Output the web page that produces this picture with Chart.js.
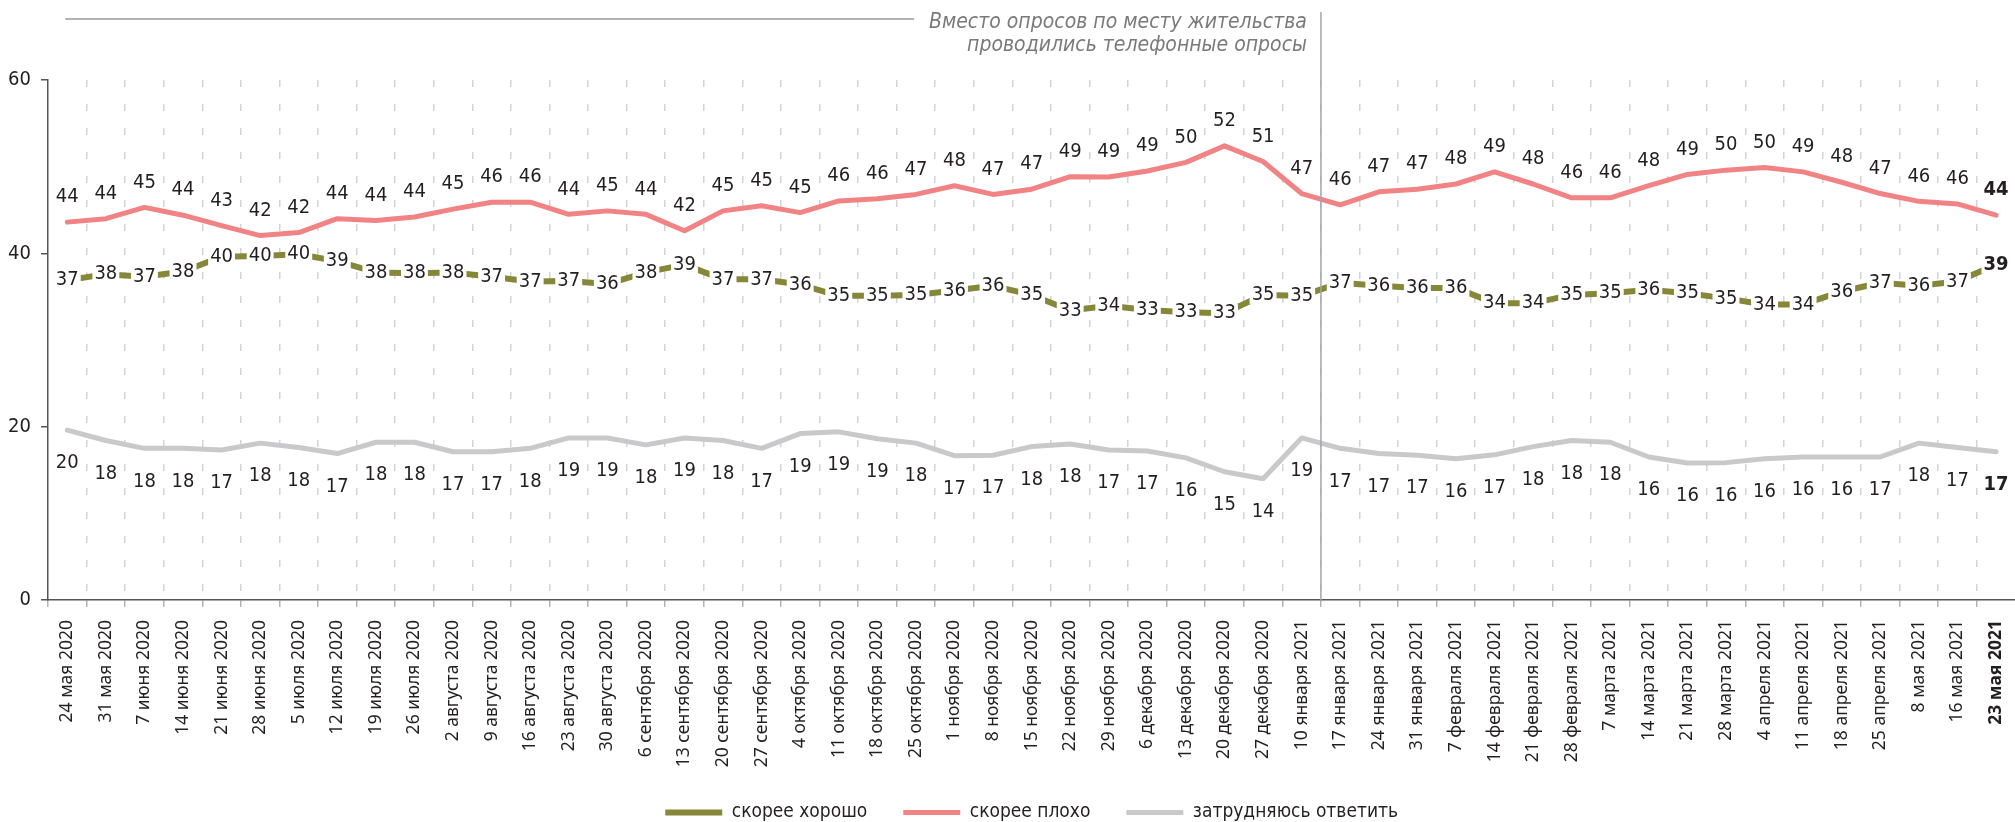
<!DOCTYPE html>
<html>
<head>
<meta charset="utf-8">
<script src="https://cdn.jsdelivr.net/npm/chart.js@4.4.0/dist/chart.umd.min.js"></script>
<style>
html,body{margin:0;padding:0;overflow:hidden;background:#fff;width:2015px;height:822px}
#wrap{position:absolute;left:0;top:0;width:2030px;height:832px}
</style>
</head>
<body>
<div id="wrap"><canvas id="c"></canvas></div>
<script>
const categories = [
  '24 мая 2020','31 мая 2020','7 июня 2020','14 июня 2020','21 июня 2020','28 июня 2020',
  '5 июля 2020','12 июля 2020','19 июля 2020','26 июля 2020','2 августа 2020','9 августа 2020',
  '16 августа 2020','23 августа 2020','30 августа 2020','6 сентября 2020','13 сентября 2020',
  '20 сентября 2020','27 сентября 2020','4 октября 2020','11 октября 2020','18 октября 2020',
  '25 октября 2020','1 ноября 2020','8 ноября 2020','15 ноября 2020','22 ноября 2020',
  '29 ноября 2020','6 декабря 2020','13 декабря 2020','20 декабря 2020','27 декабря 2020',
  '10 января 2021','17 января 2021','24 января 2021','31 января 2021','7 февраля 2021',
  '14 февраля 2021','21 февраля 2021','28 февраля 2021','7 марта 2021','14 марта 2021',
  '21 марта 2021','28 марта 2021','4 апреля 2021','11 апреля 2021','18 апреля 2021',
  '25 апреля 2021','8 мая 2021','16 мая 2021','23 мая 2021'
];

// line values
const good = [36.9,37.6,37.3,37.9,39.6,39.7,39.9,39.1,37.8,37.7,37.8,37.3,36.75,36.8,36.45,37.8,38.7,
  37.0,37.0,36.4,35.1,35.1,35.2,35.7,36.25,35.2,33.4,33.95,33.45,33.2,33.1,35.2,35.1,36.6,36.25,
  36.0,36.0,34.25,34.25,35.2,35.4,35.8,35.4,34.8,34.1,34.1,35.6,36.6,36.25,36.75,38.7];
const bad = [43.6,44.0,45.3,44.4,43.2,42.05,42.4,44.0,43.8,44.2,45.1,45.9,45.9,44.5,44.9,44.5,42.6,
  44.9,45.5,44.7,46.05,46.3,46.8,47.8,46.8,47.4,48.85,48.8,49.5,50.5,52.4,50.6,46.9,45.6,47.1,
  47.4,48.0,49.4,48.0,46.4,46.4,47.8,49.1,49.6,49.9,49.4,48.2,46.9,46.0,45.7,44.4];
const hard = [19.6,18.4,17.5,17.5,17.3,18.1,17.6,16.9,18.2,18.2,17.1,17.1,17.5,18.7,18.7,17.9,18.7,
  18.4,17.5,19.2,19.4,18.6,18.1,16.65,16.7,17.7,18.0,17.3,17.2,16.4,14.8,14.0,18.7,17.5,16.9,
  16.7,16.3,16.75,17.7,18.4,18.2,16.5,15.8,15.85,16.3,16.5,16.5,16.5,18.1,17.6,17.1];

// printed value labels
const goodLabels = [37,38,37,38,40,40,40,39,38,38,38,37,37,37,36,38,39,
  37,37,36,35,35,35,36,36,35,33,34,33,33,33,35,35,37,36,
  36,36,34,34,35,35,36,35,35,34,34,36,37,36,37,39];
const badLabels = [44,44,45,44,43,42,42,44,44,44,45,46,46,44,45,44,42,
  45,45,45,46,46,47,48,47,47,49,49,49,50,52,51,47,46,47,
  47,48,49,48,46,46,48,49,50,50,49,48,47,46,46,44];
const hardLabels = [20,18,18,18,17,18,18,17,18,18,17,17,18,19,19,18,19,
  18,17,19,19,19,18,17,17,18,18,17,17,16,15,14,19,17,17,
  17,16,17,18,18,18,16,16,16,16,16,16,17,18,17,17];

const seriesNames = ['скорее хорошо','скорее плохо','затрудняюсь ответить'];
const yTicks = [0,20,40,60];
const noteLines = ['Вместо опросов по месту жительства','проводились телефонные опросы'];
const noteSplitIndex = 32; // separator after "10 января 2021"

const NARROW = "'Liberation Sans Narrow','DejaVu Sans Condensed',sans-serif";
const COLORS = ['#878739','#f28385','#c9c9cb'];
const lastIdx = categories.length - 1;

const deco = {
  id: 'deco',
  afterDraw(chart) {
    const ctx = chart.ctx;
    const xs = chart.scales.x;
    const area = chart.chartArea;
    // separator
    const sepX = (xs.getPixelForValue(noteSplitIndex) + xs.getPixelForValue(noteSplitIndex + 1)) / 2;
    ctx.save();
    ctx.strokeStyle = '#a3a4ae';
    ctx.lineWidth = 1.5;
    ctx.beginPath();
    ctx.moveTo(sepX, 12);
    ctx.lineTo(sepX, area.bottom);
    ctx.stroke();
    // note text
    ctx.font = 'italic 21px ' + NARROW;
    ctx.fillStyle = '#7a7a7a';
    ctx.textAlign = 'right';
    ctx.textBaseline = 'middle';
    const tx = sepX - 14;
    ctx.fillText(noteLines[0], tx, 23);
    ctx.fillText(noteLines[1], tx, 46);
    const w0 = ctx.measureText(noteLines[0]).width;
    // top rule
    ctx.strokeStyle = '#b3b3b3';
    ctx.lineWidth = 2;
    ctx.beginPath();
    ctx.moveTo(xs.getPixelForValue(0) - 2, 19);
    ctx.lineTo(tx - w0 - 15, 19);
    ctx.stroke();

    // value labels
    ctx.textAlign = 'center';
    ctx.textBaseline = 'middle';
    const labelSets = [goodLabels, badLabels, hardLabels];
    chart.data.datasets.forEach((ds, di) => {
      const meta = chart.getDatasetMeta(di);
      meta.data.forEach((pt, i) => {
        const txt = String(labelSets[di][i]);
        ctx.font = (i === lastIdx ? 'bold ' : '') + '20px ' + NARROW;
        let y = pt.y;
        if (di === 1) y = pt.y - 25;
        if (di === 2) y = pt.y + 33;
        if (di === 0) {
          const tw = ctx.measureText(txt).width;
          ctx.fillStyle = '#ffffff';
          ctx.fillRect(pt.x - tw / 2 - 2, y - 9, tw + 4, 18);
        }
        ctx.fillStyle = '#231f20';
        ctx.fillText(txt, pt.x, y);
      });
    });
    ctx.restore();
  }
};

const mk = (i, data, w) => ({
  label: seriesNames[i], data: data,
  borderColor: COLORS[i], backgroundColor: COLORS[i],
  borderWidth: w, pointRadius: 0, pointHoverRadius: 0, tension: 0,
  borderCapStyle: 'round', borderJoinStyle: 'round'
});

new Chart(document.getElementById('c'), {
  type: 'line',
  data: {
    labels: categories,
    datasets: [mk(0, good, 6), mk(1, bad, 5), mk(2, hard, 5)]
  },
  options: {
    responsive: true, maintainAspectRatio: false, animation: false, devicePixelRatio: 1,
    layout: { padding: { top: 80, right: 2, left: 0, bottom: 0 } },
    plugins: {
      tooltip: { enabled: false },
      legend: {
        position: 'bottom', fullSize: false,
        labels: {
          usePointStyle: true, pointStyle: 'line', pointStyleWidth: 57,
          padding: 36, color: '#231f20',
          font: { family: NARROW, size: 19 }
        }
      }
    },
    scales: {
      x: {
        type: 'category', offset: true, z: 1,
        grid: {
          offset: true, drawOnChartArea: true, drawTicks: true,
          color: c => c.index === 0 ? 'rgba(0,0,0,0)' : '#d4d4d4',
          lineWidth: 1.5,
          tickLength: 7, tickColor: '#b5b5b5', tickWidth: 1.5
        },
        border: { color: '#555', width: 1.5, dash: [7, 17], dashOffset: 0 },
        ticks: {
          autoSkip: false, maxRotation: 90, minRotation: 90, padding: 13, color: '#231f20',
          font: c => ({ family: "'Noto Sans',sans-serif", size: 17.5, weight: c.index === lastIdx ? 'bold' : 'normal' })
        },
        afterFit: s => { s.height = 167; }
      },
      y: {
        min: 0, max: 60,
        afterBuildTicks: s => { s.ticks = yTicks.map(v => ({ value: v })); },
        ticks: { padding: 10, color: '#231f20', font: { family: NARROW, size: 20 } },
        grid: { drawOnChartArea: false, drawTicks: true, tickLength: 7, color: '#555', lineWidth: 1.5 },
        border: { color: '#555', width: 1.5 },
        afterFit: s => { s.width = 48; }
      }
    }
  },
  plugins: [deco]
});
</script>
</body>
</html>
